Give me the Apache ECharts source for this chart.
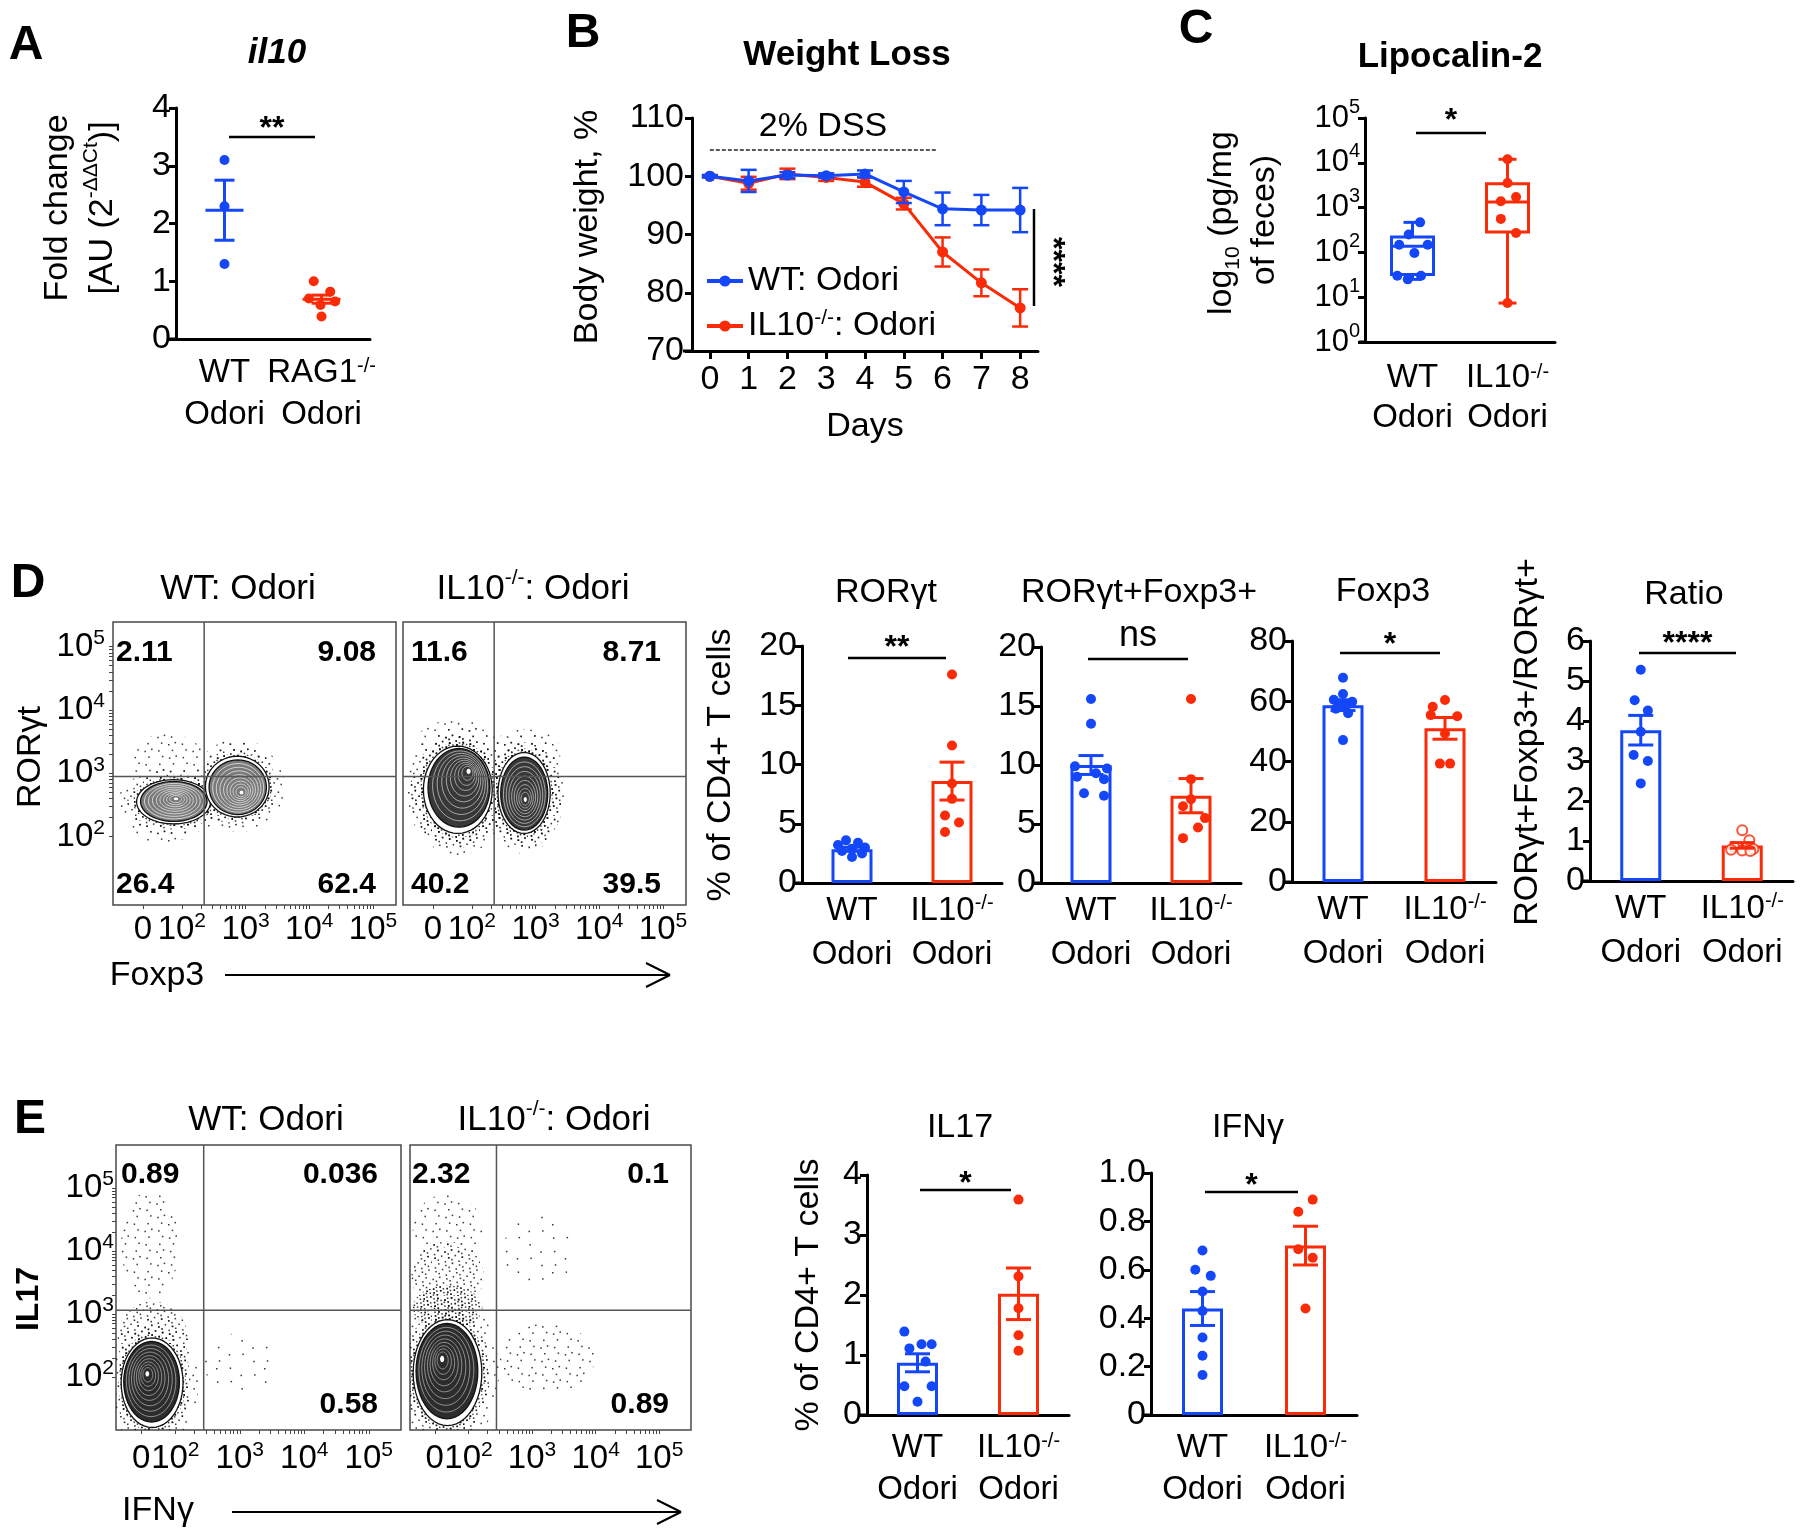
<!DOCTYPE html>
<html>
<head>
<meta charset="utf-8">
<title>Odori IL10 figure</title>
<script src="https://cdn.jsdelivr.net/npm/echarts@6/dist/echarts.min.js"></script>
<style>
  html, body { margin: 0; padding: 0; background: #fff; }
  #fig { width: 1800px; height: 1539px; }
</style>
</head>
<body>
<div id="fig"></div>
<script>
// ---------- values ----------
// A  il10 fold change
const aCats = ['WT', 'RAG1-/-']
const aWt = [3.1, 2.3, 1.3]
const aWtJit = [0, 0, 0]
const aKo = [1.0, 0.82, 0.7, 0.65, 0.59, 0.39]
const aKoJit = [-0.08, 0.09, -0.13, 0.14, -0.01, 0]
const aMean = [2.23, 0.69]
const aSem = [0.52, 0.07]

// B  weight loss
const bDays = [0, 1, 2, 3, 4, 5, 6, 7, 8]
const bWt = [100, 99.2, 100.2, 100.1, 100.4, 97.3, 94.4, 94.2, 94.2]
const bWtSem = [0.2, 1.9, 0.5, 0.4, 0.6, 1.9, 2.8, 2.6, 3.8]
const bKo = [100, 98.8, 100.4, 99.8, 99.0, 95.3, 87.0, 81.7, 77.4]
const bKoSem = [0.2, 1.1, 0.9, 0.6, 0.8, 1.0, 2.5, 2.3, 3.2]
const bDss = [[0, 104.5], [5.85, 104.5]]

// C  lipocalin-2 (pg/mg)
const koCats = ['WT', 'IL10-/-']
const cWt = [468, 250, 148, 148, 97, 30, 30, 25]
const cWtJit = [0.08, -0.04, -0.14, 0.16, 0.02, -0.16, 0.09, -0.05]
const cKo = [12000, 3540, 1730, 1380, 560, 270, 7.4]
const cKoJit = [0, 0, 0.09, -0.07, -0.07, 0.09, 0]
const cBox = [[25, 32, 137, 220, 468], [7.4, 285, 1330, 3400, 12000]] // min q1 med q3 max

// D  bar panels (% of CD4+ T cells)
const rorWt = [3.6, 3.4, 3.2, 3.0, 2.9, 2.7, 2.5, 2.2]
const rorWtJit = [-0.06, 0.06, -0.14, 0.13, 0, -0.1, 0.1, 0]
const rorKo = [17.6, 11.6, 8.4, 7.1, 5.7, 5.1, 4.3]
const rorKoJit = [0, 0, 0, 0, -0.07, 0.07, -0.07]
const rorMean = [2.85, 8.6]
const rorSem = [0.17, 1.6]

const dpWt = [15.6, 13.5, 9.9, 9.7, 9.3, 9.0, 8.8, 7.6, 7.4]
const dpWtJit = [0, 0, -0.16, 0.16, 0.05, -0.14, 0.13, -0.07, 0.13]
const dpKo = [15.6, 8.8, 7.1, 6.5, 5.5, 4.7, 3.8]
const dpKoJit = [0, 0, 0, -0.08, 0.14, 0.07, -0.08]
const dpMean = [10.0, 7.4]
const dpSem = [0.8, 1.45]

const foxWt = [67.8, 62.4, 60.5, 59.8, 59, 58.5, 57.5, 56, 47.1]
const foxWtJit = [0, 0, -0.09, 0.09, -0.03, 0.03, -0.07, 0.05, 0]
const foxKo = [60.4, 58.2, 55.4, 55, 49.3, 39.3, 39.3]
const foxKoJit = [0, -0.12, -0.14, 0.12, 0, -0.05, 0.05]
const foxMean = [58.7, 51]
const foxSem = [1.8, 3.6]

const ratWt = [5.28, 4.52, 4.26, 3.73, 3.15, 3.0, 2.44]
const ratWtJit = [0, -0.06, 0.07, 0, -0.07, 0.07, 0]
const ratKo = [1.27, 1.02, 0.85, 0.8, 0.78, 0.76, 0.75]
const ratKoJit = [0, 0.07, -0.08, 0.11, -0.11, 0, 0.08]
const ratMean = [3.77, 0.89]
const ratSem = [0.37, 0.07]

// E  bar panels
const il17Wt = [1.39, 1.18, 1.18, 1.11, 0.89, 0.48, 0.48, 0.22]
const il17WtJit = [-0.13, 0.14, 0.04, -0.08, 0.08, -0.13, 0.14, 0]
const il17Ko = [3.59, 2.31, 1.78, 1.33, 1.07]
const il17KoJit = [0, 0, 0, 0, 0]
const il17Mean = [0.87, 2.02]
const il17Sem = [0.15, 0.43]

const ifnWt = [0.68, 0.6, 0.575, 0.51, 0.43, 0.32, 0.245, 0.165]
const ifnWtJit = [0, -0.07, 0.08, 0, 0, 0, 0, 0]
const ifnKo = [0.89, 0.84, 0.685, 0.65, 0.44]
const ifnKoJit = [0.07, -0.07, -0.07, 0.07, 0]
const ifnMean = [0.44, 0.70]
const ifnSem = [0.07, 0.08]

// flow plots: axes in log decades, 0 drawn just left of 10^2
const flowText = ['0', '10{s|2}', '10{s|3}', '10{s|4}', '10{s|5}']
const dFlowX = [1.39, 2, 3, 4, 5]
const dFlowY = [1.35, 2, 3, 4, 5]
const eFlowX = [1.47, 2, 3, 4, 5]
const eFlowY = [1.52, 2, 3, 4, 5]
const dGate = [2.35, 2.95]
const eGate = [2.44, 3.06]
// populations: [x, y, halfWidth, halfHeight, peakX, peakY]
const dWtBlobs = [[1.87, 2.55, 0.58, 0.35, 1.91, 2.6], [2.87, 2.79, 0.5, 0.48, 2.94, 2.69]]
const dKoBlobs = [[1.78, 2.74, 0.54, 0.69, 1.96, 3.05], [2.82, 2.69, 0.41, 0.64, 2.84, 2.58]]
const eWtBlobs = [[1.64, 1.91, 0.48, 0.71, 1.56, 2.06]]
const eKoBlobs = [[1.67, 2.07, 0.54, 0.84, 1.58, 2.3]]
// scattered events: [x, y, halfWidth, halfHeight, density 0..3]
const dWtClouds = [[1.77, 3.2, 0.6, 0.42, 1], [2.88, 3.25, 0.45, 0.3, 1], [1.7, 2.2, 0.55, 0.3, 1]]
const dKoClouds = [[1.78, 3.5, 0.65, 0.35, 1], [2.85, 3.35, 0.55, 0.35, 1], [1.78, 2.7, 0.75, 0.88, 2], [2.85, 2.65, 0.6, 0.82, 2]]
const eWtClouds = [[1.61, 4.1, 0.45, 0.85, 1], [3.0, 2.2, 0.55, 0.5, 0], [1.65, 2.6, 0.55, 0.6, 2]]
const eKoClouds = [[1.67, 4.35, 0.55, 0.55, 1], [1.67, 3.6, 0.57, 0.55, 2], [1.67, 3.1, 0.55, 0.35, 3], [3.24, 2.3, 0.75, 0.55, 1], [3.1, 4.0, 0.55, 0.6, 0]]
const dWtQuad = ['2.11', '9.08', '26.4', '62.4']
const dKoQuad = ['11.6', '8.71', '40.2', '39.5']
const eWtQuad = ['0.89', '0.036', '', '0.58']
const eKoQuad = ['2.32', '0.1', '', '0.89']

// ---------- styling ----------
const BLUE = '#1447f8'
const RED = '#fa2b08'
const FONT = "'Liberation Sans', Arial, Helvetica, sans-serif"

// speckle texture for scattered flow events (evenly spread dots, no randomness)
function speckle (n) {
  const size = 48
  const cv = document.createElement('canvas')
  cv.width = cv.height = size
  const ctx = cv.getContext('2d')
  ctx.fillStyle = 'rgba(20,20,20,0.85)'
  for (let i = 0; i < n; i++) {
    const x = ((0.5 + i * 0.7548776662) % 1) * size
    const y = ((0.5 + i * 0.5698402910) % 1) * size
    ctx.fillRect(x, y, 1.5, 1.5)
  }
  return {image: cv, repeat: 'repeat'}
}
const speckles = [speckle(13), speckle(34), speckle(85), speckle(180)]

function ellipsePts (cx, cy, rx, ry) {
  const pts = []
  for (let i = 0; i < 48; i++) {
    const t = i / 48 * Math.PI * 2
    pts.push([cx + rx * Math.cos(t), cy + ry * Math.sin(t)])
  }
  return pts
}

const grids = []
const xAxes = []
const yAxes = []
const series = []
const graphics = []

function addGrid (g) {
  grids.push(g)
  return grids.length - 1
}

function seg (x1, y1, x2, y2, w) {
  graphics.push({type: 'line', z: 100, shape: {x1: x1, y1: y1, x2: x2, y2: y2}, style: {stroke: '#000', lineWidth: w || 2.5}})
}

// Prism draws the x axis a few pixels past the y axis
function stub (g, len) {
  const y = g.top + g.height
  seg(g.left - len, y, g.left, y, 3)
}

function catLabel (v) {
  const ko = v.indexOf('-/-') > 0
  return '{a|' + v.replace('-/-', '') + '}' + (ko ? '{s|-/-}' : '') + '\n{a|Odori}'
}

function catAxis (gi, cats, margin, lh, size) {
  return {
    gridIndex: gi, type: 'category', data: cats, boundaryGap: true,
    axisLine: {onZero: false, lineStyle: {color: '#000', width: 3}},
    axisTick: {alignWithLabel: true, length: 8, lineStyle: {color: '#000', width: 3}},
    axisLabel: {
      margin: margin, formatter: catLabel, interval: 0,
      rich: {
        a: {fontSize: size, lineHeight: lh, color: '#000', fontFamily: FONT},
        s: {fontSize: Math.round(size * 0.62), verticalAlign: 'top', padding: [4, 0, 0, 0], color: '#000', fontFamily: FONT}
      }
    }
  }
}

function valAxis (gi, min, max, interval, label) {
  return {
    gridIndex: gi, type: 'value', min: min, max: max, interval: interval,
    axisLine: {show: true, onZero: false, lineStyle: {color: '#000', width: 3}},
    axisTick: {show: true, length: 7, lineStyle: {color: '#000', width: 3}},
    axisLabel: Object.assign({fontSize: 34, color: '#000', margin: 5, fontFamily: FONT}, label || {}),
    splitLine: {show: false}
  }
}

function hiddenX (gi) {
  return {gridIndex: gi, type: 'value', min: -0.5, max: 1.5, show: false, axisLine: {onZero: false}}
}

function zip (vals, jit, c) {
  return vals.map((v, i) => [c + jit[i], v])
}

function errItem (colors, capW, meanW, lw) {
  return function (params, api) {
    const x = api.value(0)
    const m = api.value(1)
    const e = api.value(2)
    const hi = api.coord([x, m + e])
    const lo = api.coord([x, m - e])
    const mid = api.coord([x, m])
    const col = Array.isArray(colors) ? colors[params.dataIndex] : colors
    const st = {stroke: col, lineWidth: lw, fill: 'none'}
    const ln = (x1, y1, x2, y2) => ({type: 'line', shape: {x1: x1, y1: y1, x2: x2, y2: y2}, style: st})
    const kids = [
      ln(hi[0], hi[1], lo[0], lo[1]),
      ln(hi[0] - capW / 2, hi[1], hi[0] + capW / 2, hi[1]),
      ln(lo[0] - capW / 2, lo[1], lo[0] + capW / 2, lo[1])
    ]
    if (meanW) kids.push(ln(mid[0] - meanW / 2, mid[1], mid[0] + meanW / 2, mid[1]))
    return {type: 'group', children: kids}
  }
}

// dot / bar panel with two groups
function dotPanel (cfg) {
  const gi = addGrid(cfg.grid)
  stub(cfg.grid, 9)
  const cx = xAxes.length
  xAxes.push(catAxis(gi, cfg.cats, cfg.margin, cfg.lh, cfg.catSize))
  xAxes.push(hiddenX(gi))
  const yi = yAxes.length
  yAxes.push(valAxis(gi, 0, cfg.ymax, cfg.interval, cfg.yLabel))
  if (cfg.barWidth) {
    series.push({
      type: 'bar', xAxisIndex: cx, yAxisIndex: yi, barWidth: cfg.barWidth, z: 2,
      data: cfg.mean.map((m, i) => ({value: m, itemStyle: {color: '#fff', borderColor: i ? RED : BLUE, borderWidth: 3}}))
    })
  }
  series.push({
    type: 'scatter', xAxisIndex: cx + 1, yAxisIndex: yi, symbolSize: cfg.dot, z: 3,
    itemStyle: {color: BLUE, opacity: 1}, data: zip(cfg.wt, cfg.wtJit, 0)
  })
  series.push({
    type: 'scatter', xAxisIndex: cx + 1, yAxisIndex: yi, z: 3,
    symbol: cfg.hollow ? 'emptyCircle' : 'circle', symbolSize: cfg.dot,
    itemStyle: cfg.hollow ? {color: RED, borderColor: RED, borderWidth: 2} : {color: RED, opacity: 1},
    data: zip(cfg.ko, cfg.koJit, 1)
  })
  series.push({
    type: 'custom', xAxisIndex: cx + 1, yAxisIndex: yi, z: 4,
    renderItem: errItem([BLUE, RED], cfg.cap || 22, cfg.barWidth ? 0 : 38, 3),
    data: cfg.mean.map((m, i) => [i, m, cfg.sem[i]])
  })
}

// ---------- panel A ----------
dotPanel({
  grid: {left: 176, top: 108, width: 194, height: 231}, cats: aCats, margin: 13, lh: 42, catSize: 33,
  ymax: 4, interval: 1, wt: aWt, wtJit: aWtJit, ko: aKo, koJit: aKoJit, mean: aMean, sem: aSem, dot: 10, cap: 20
})

// ---------- panel B ----------
;(function () {
  const g = {left: 692, top: 118, width: 346, height: 233}
  const gi = addGrid(g)
  stub(g, 9)
  const xi = xAxes.length
  xAxes.push({
    gridIndex: gi, type: 'value', min: -0.46, max: 8.46,
    axisLine: {onZero: false, lineStyle: {color: '#000', width: 3}},
    axisTick: {customValues: bDays, length: 8, lineStyle: {color: '#000', width: 3}},
    axisLabel: {customValues: bDays, fontSize: 34, color: '#000', margin: 12, fontFamily: FONT},
    splitLine: {show: false}
  })
  const yi = yAxes.length
  yAxes.push(valAxis(gi, 70, 110, 10, {margin: 8}))
  series.push({
    type: 'line', xAxisIndex: xi, yAxisIndex: yi, data: bDss, showSymbol: false, silent: true,
    lineStyle: {color: '#222', width: 1.5, type: [4, 2]}
  })
  series.push({
    name: 'IL10-/-: Odori', type: 'line', xAxisIndex: xi, yAxisIndex: yi, z: 3,
    data: bDays.map((d, i) => [d, bKo[i]]), symbol: 'circle', symbolSize: 11,
    itemStyle: {color: RED}, lineStyle: {color: RED, width: 3}
  })
  series.push({
    type: 'custom', xAxisIndex: xi, yAxisIndex: yi, z: 3,
    renderItem: errItem(RED, 16, 0, 2.5), data: bDays.map((d, i) => [d, bKo[i], bKoSem[i]])
  })
  series.push({
    name: 'WT: Odori', type: 'line', xAxisIndex: xi, yAxisIndex: yi, z: 4,
    data: bDays.map((d, i) => [d, bWt[i]]), symbol: 'circle', symbolSize: 11,
    itemStyle: {color: BLUE}, lineStyle: {color: BLUE, width: 3}
  })
  series.push({
    type: 'custom', xAxisIndex: xi, yAxisIndex: yi, z: 4,
    renderItem: errItem(BLUE, 16, 0, 2.5), data: bDays.map((d, i) => [d, bWt[i], bWtSem[i]])
  })
})()

// ---------- panel C ----------
;(function () {
  const g = {left: 1365, top: 118, width: 190, height: 224}
  const gi = addGrid(g)
  stub(g, 6)
  const cx = xAxes.length
  xAxes.push(catAxis(gi, koCats, 16, 40, 33))
  xAxes.push(hiddenX(gi))
  const yi = yAxes.length
  yAxes.push({
    gridIndex: gi, type: 'log', logBase: 10, min: 1, max: 100000,
    axisLine: {show: true, onZero: false, lineStyle: {color: '#000', width: 3}},
    axisTick: {show: true, length: 7, lineStyle: {color: '#000', width: 3}},
    minorTick: {show: false}, splitLine: {show: false},
    axisLabel: {
      fontSize: 31, color: '#000', margin: 5, fontFamily: FONT, lineHeight: 42,
      formatter: v => '10{s|' + Math.round(Math.log10(v)) + '}',
      rich: {s: {fontSize: 20, verticalAlign: 'top', color: '#000', fontFamily: FONT}}
    }
  })
  series.push({
    type: 'custom', xAxisIndex: cx + 1, yAxisIndex: yi, z: 2, data: cBox.map((b, i) => [i].concat(b)),
    renderItem: function (params, api) {
      const i = api.value(0)
      const p = [1, 2, 3, 4, 5].map(k => api.coord([i, api.value(k)]))
      const st = {stroke: i ? RED : BLUE, lineWidth: 3, fill: 'none'}
      const bw = 42
      const cw = 18
      const x = p[0][0]
      const ln = (x1, y1, x2, y2) => ({type: 'line', shape: {x1: x1, y1: y1, x2: x2, y2: y2}, style: st})
      return {
        type: 'group',
        children: [
          ln(x, p[4][1], x, p[3][1]), ln(x, p[1][1], x, p[0][1]),
          ln(x - cw / 2, p[4][1], x + cw / 2, p[4][1]), ln(x - cw / 2, p[0][1], x + cw / 2, p[0][1]),
          {type: 'rect', shape: {x: x - bw / 2, y: p[3][1], width: bw, height: p[1][1] - p[3][1]}, style: st},
          ln(x - bw / 2, p[2][1], x + bw / 2, p[2][1])
        ]
      }
    }
  })
  series.push({type: 'scatter', xAxisIndex: cx + 1, yAxisIndex: yi, symbolSize: 10, z: 3, itemStyle: {color: BLUE, opacity: 1}, data: zip(cWt, cWtJit, 0)})
  series.push({type: 'scatter', xAxisIndex: cx + 1, yAxisIndex: yi, symbolSize: 10, z: 3, itemStyle: {color: RED, opacity: 1}, data: zip(cKo, cKoJit, 1)})
})()

// ---------- panel D / E bars ----------
const barCommon = {cats: koCats, catSize: 33, dot: 10, barWidth: 41, cap: 25}
dotPanel(Object.assign({grid: {left: 802, top: 646, width: 200, height: 237}, margin: 6, lh: 44, ymax: 20, interval: 5,
  wt: rorWt, wtJit: rorWtJit, ko: rorKo, koJit: rorKoJit, mean: rorMean, sem: rorSem}, barCommon))
dotPanel(Object.assign({grid: {left: 1041, top: 647, width: 200, height: 236}, margin: 6, lh: 44, ymax: 20, interval: 5,
  wt: dpWt, wtJit: dpWtJit, ko: dpKo, koJit: dpKoJit, mean: dpMean, sem: dpSem}, barCommon))
dotPanel(Object.assign({grid: {left: 1292, top: 641, width: 204, height: 241}, margin: 6, lh: 44, ymax: 80, interval: 20,
  wt: foxWt, wtJit: foxWtJit, ko: foxKo, koJit: foxKoJit, mean: foxMean, sem: foxSem}, barCommon))
dotPanel(Object.assign({grid: {left: 1590, top: 641, width: 203, height: 240}, margin: 6, lh: 44, ymax: 6, interval: 1,
  wt: ratWt, wtJit: ratWtJit, ko: ratKo, koJit: ratKoJit, mean: ratMean, sem: ratSem, hollow: true}, barCommon))
dotPanel(Object.assign({grid: {left: 867, top: 1175, width: 202, height: 240}, margin: 12, lh: 42, ymax: 4, interval: 1,
  wt: il17Wt, wtJit: il17WtJit, ko: il17Ko, koJit: il17KoJit, mean: il17Mean, sem: il17Sem}, barCommon))
dotPanel(Object.assign({grid: {left: 1151, top: 1173, width: 206, height: 242}, margin: 12, lh: 42, ymax: 1, interval: 0.2,
  wt: ifnWt, wtJit: ifnWtJit, ko: ifnKo, koJit: ifnKoJit, mean: ifnMean, sem: ifnSem,
  yLabel: {formatter: v => v === 0 ? '0' : v.toFixed(1)}}, barCommon))

// ---------- flow plots ----------
function withMinor (ticks) {
  const out = ticks.slice()
  for (let d = 2; d <= 4; d++) {
    for (let k = 2; k <= 9; k++) out.push(d + Math.log10(k))
  }
  return out
}

function flowAxis (gi, range, ticks, showTicks, showLabels, margin) {
  return {
    gridIndex: gi, type: 'value', min: range[0], max: range[1],
    axisLine: {show: false, onZero: false}, splitLine: {show: false},
    axisTick: {show: showTicks, customValues: withMinor(ticks), length: 4, lineStyle: {color: '#444', width: 1}},
    axisLabel: {
      show: showLabels, customValues: ticks, margin: margin, fontSize: 33, fontFamily: FONT, color: '#000', lineHeight: 44,
      formatter: v => flowText[ticks.findIndex(t => Math.abs(t - v) < 1e-6)],
      rich: {s: {fontSize: 21, fontFamily: FONT, verticalAlign: 'top', padding: [3, 0, 0, 0], color: '#000'}}
    }
  }
}

function cloudItem (params, api) {
  const c = api.coord([api.value(0), api.value(1)])
  const s = api.size([api.value(2), api.value(3)])
  return {type: 'polygon', shape: {points: ellipsePts(c[0], c[1], s[0], s[1])}, style: {fill: speckles[api.value(4)], stroke: 'none'}}
}

function blobItem (layer, shade, ring) {
  return function (params, api) {
    const c = api.coord([api.value(0), api.value(1)])
    const p = api.coord([api.value(4), api.value(5)])
    const s = api.size([api.value(2), api.value(3)])
    const kids = []
    const ell = (k, style) => {
      const f = Math.min(k, 1)
      const x = p[0] + (c[0] - p[0]) * f
      const y = p[1] + (c[1] - p[1]) * f
      kids.push({type: 'polygon', shape: {points: ellipsePts(x, y, s[0] * k, s[1] * k)}, style: style})
    }
    if (layer === 'halo') {
      ell(1.5, {fill: speckles[1], stroke: 'none'})
      ell(1.25, {fill: speckles[2], stroke: 'none'})
      ell(1.1, {fill: speckles[3], stroke: 'none'})
    } else if (layer === 'outer') {
      ell(1.0, {fill: '#fff', stroke: '#111', lineWidth: 1.3})
      ell(0.9, {fill: shade, stroke: '#111', lineWidth: 1.3})
    } else {
      [0.8, 0.7, 0.6, 0.5, 0.41, 0.32, 0.24, 0.16].forEach(k => ell(k, {fill: 'none', stroke: ring, lineWidth: 0.9}))
      ell(0.06, {fill: '#fff', stroke: 'none'})
    }
    return {type: 'group', children: kids}
  }
}

function flowPlot (cfg) {
  const gi = addGrid(Object.assign({show: true, borderColor: '#4a4a4a', borderWidth: 1.5, backgroundColor: 'transparent'}, cfg.grid))
  const xi = xAxes.length
  const yi = yAxes.length
  xAxes.push(flowAxis(gi, cfg.xr, cfg.xTicks, true, true, cfg.xMargin))
  yAxes.push(flowAxis(gi, cfg.yr, cfg.yTicks, cfg.yLabels, cfg.yLabels, cfg.yMargin))
  const base = {type: 'custom', xAxisIndex: xi, yAxisIndex: yi, clip: true, silent: true}
  series.push(Object.assign({}, base, {renderItem: cloudItem, data: cfg.clouds, z: 2}))
  ;['halo', 'outer', 'inner'].forEach((layer, k) => {
    series.push(Object.assign({}, base, {renderItem: blobItem(layer, cfg.shade, cfg.ring), data: cfg.blobs, z: 3 + k}))
  })
  const gl = {type: 'line', xAxisIndex: xi, yAxisIndex: yi, showSymbol: false, silent: true, z: 7, lineStyle: {color: '#555', width: 1.5}}
  series.push(Object.assign({}, gl, {data: [[cfg.gate[0], cfg.yr[0]], [cfg.gate[0], cfg.yr[1]]]}))
  series.push(Object.assign({}, gl, {data: [[cfg.xr[0], cfg.gate[1]], [cfg.xr[1], cfg.gate[1]]]}))
}

flowPlot({grid: {left: 113, top: 622, width: 283, height: 283}, xr: [0.92, 5.36], yr: [0.92, 5.39], xTicks: dFlowX, yTicks: dFlowY,
  yLabels: true, xMargin: 3, yMargin: 8, gate: dGate, blobs: dWtBlobs, clouds: dWtClouds, shade: '#7a7a7a', ring: '#dedede'})
flowPlot({grid: {left: 403, top: 622, width: 283, height: 283}, xr: [0.92, 5.36], yr: [0.92, 5.39], xTicks: dFlowX, yTicks: dFlowY,
  yLabels: false, xMargin: 3, yMargin: 8, gate: dGate, blobs: dKoBlobs, clouds: dKoClouds, shade: '#383838', ring: '#b4b4b4'})
flowPlot({grid: {left: 116, top: 1145, width: 285, height: 285}, xr: [1.08, 5.5], yr: [1.16, 5.68], xTicks: eFlowX, yTicks: eFlowY,
  yLabels: true, xMargin: 7, yMargin: 2, gate: eGate, blobs: eWtBlobs, clouds: eWtClouds, shade: '#2c2c2c', ring: '#9c9c9c'})
flowPlot({grid: {left: 410, top: 1145, width: 281, height: 285}, xr: [1.08, 5.5], yr: [1.16, 5.68], xTicks: eFlowX, yTicks: eFlowY,
  yLabels: false, xMargin: 7, yMargin: 2, gate: eGate, blobs: eKoBlobs, clouds: eKoClouds, shade: '#2c2c2c', ring: '#9c9c9c'})

// ---------- text, brackets, arrows ----------
const SUP = {s: {fontSize: 21, verticalAlign: 'top', fontFamily: FONT, fill: '#000'}}
const SUB = {b: {fontSize: 21, verticalAlign: 'bottom', fontFamily: FONT, fill: '#000'}}

function txt (x, y, text, o) {
  o = o || {}
  graphics.push({
    type: 'text', x: x, y: y, rotation: o.rot || 0, z: 100,
    style: {
      text: text, fontSize: o.size || 34, fontWeight: o.weight || 'normal', fontStyle: o.italic ? 'italic' : 'normal',
      fontFamily: FONT, fill: '#000', align: o.align || 'center', verticalAlign: 'middle',
      lineHeight: o.lh, rich: o.rich
    }
  })
}

function sig (x1, x2, y, label, ly) {
  seg(x1, y, x2, y)
  txt((x1 + x2) / 2, ly, label, {size: label === 'ns' ? 36 : 32, weight: label === 'ns' ? 'normal' : 'bold'})
}

const R90 = Math.PI / 2

// panel letters
txt(26, 46, 'A', {size: 48, weight: 'bold'})
txt(583, 34, 'B', {size: 48, weight: 'bold'})
txt(1196, 30, 'C', {size: 48, weight: 'bold'})
txt(28, 584, 'D', {size: 48, weight: 'bold'})
txt(30, 1120, 'E', {size: 48, weight: 'bold'})

// titles
txt(277, 53, 'il10', {size: 35, weight: 'bold', italic: true})
txt(847, 55, 'Weight Loss', {size: 35, weight: 'bold'})
txt(1450, 57, 'Lipocalin-2', {size: 35, weight: 'bold'})
txt(886, 593, 'RORγt')
txt(1139, 593, 'RORγt+Foxp3+')
txt(1383, 592, 'Foxp3')
txt(1684, 595, 'Ratio')
txt(960, 1128, 'IL17')
txt(1248, 1128, 'IFNγ')

// axis names
txt(58, 208, 'Fold change', {rot: R90})
txt(103, 208, '[AU (2{s|-ΔΔCt})]', {rot: R90, rich: SUP, lh: 44})
txt(588, 227, 'Body weight, %', {rot: R90})
txt(865, 427, 'Days')
txt(823, 127, '2% DSS')
txt(1222, 223, 'log{b|10} (pg/mg', {rot: R90, rich: SUB, lh: 44})
txt(1265, 220, 'of feces)', {rot: R90})
txt(721, 765, '% of CD4+ T cells', {rot: R90})
txt(1528, 742, 'RORγt+Foxp3+/RORγt+', {rot: R90})
txt(809, 1295, '% of CD4+ T cells', {rot: R90})

// flow labels
txt(238, 589, 'WT: Odori', {size: 35})
txt(533, 589, 'IL10{s|-/-}: Odori', {size: 35, rich: SUP, lh: 42})
txt(266, 1120, 'WT: Odori', {size: 35})
txt(554, 1120, 'IL10{s|-/-}: Odori', {size: 35, rich: SUP, lh: 42})
txt(31, 757, 'RORγt', {rot: R90})
txt(157, 976, 'Foxp3')
txt(29, 1299, 'IL17', {size: 32, weight: 'bold', rot: R90})
txt(158, 1511, 'IFNγ')
seg(225, 975, 670, 975, 2)
seg(670, 975, 646, 963, 2)
seg(670, 975, 646, 987, 2)
seg(232, 1512, 681, 1512, 2)
seg(681, 1512, 657, 1500, 2)
seg(681, 1512, 657, 1524, 2)

function quad (vals, left, right, top, bottom) {
  const o = {size: 30, weight: 'bold'}
  if (vals[0]) txt(left, top, vals[0], Object.assign({align: 'left'}, o))
  if (vals[1]) txt(right, top, vals[1], Object.assign({align: 'right'}, o))
  if (vals[2]) txt(left, bottom, vals[2], Object.assign({align: 'left'}, o))
  if (vals[3]) txt(right, bottom, vals[3], Object.assign({align: 'right'}, o))
}
quad(dWtQuad, 116, 376, 653, 885)
quad(dKoQuad, 411, 661, 653, 885)
quad(eWtQuad, 121, 378, 1175, 1405)
quad(eKoQuad, 412, 669, 1175, 1405)

// significance
sig(229, 315, 137, '**', 129)
sig(1416, 1486, 133, '*', 121)
sig(848, 946, 658, '**', 648)
sig(1088, 1188, 659, 'ns', 636)
sig(1340, 1440, 653, '*', 645)
sig(1639, 1736, 653, '****', 644)
sig(920, 1011, 1190, '*', 1184)
sig(1205, 1298, 1192, '*', 1186)
seg(1034, 209, 1034, 306)
txt(1052, 262, '****', {size: 32, weight: 'bold', rot: -R90})

const chart = echarts.init(document.getElementById('fig'), null, {renderer: 'canvas'})
chart.setOption({
  animation: false,
  backgroundColor: '#fff',
  textStyle: {fontFamily: FONT, color: '#000'},
  grid: grids,
  xAxis: xAxes,
  yAxis: yAxes,
  legend: {
    data: ['WT: Odori', 'IL10-/-: Odori'], orient: 'vertical', left: 700, top: 259,
    itemWidth: 36, itemHeight: 14, itemGap: 10,
    lineStyle: {width: 4},
    textStyle: {fontSize: 34, color: '#000', fontFamily: FONT, rich: {
      a: {fontSize: 34, color: '#000', fontFamily: FONT, lineHeight: 36},
      s: {fontSize: 21, verticalAlign: 'top', color: '#000', fontFamily: FONT}
    }},
    formatter: n => n.indexOf('IL10') === 0 ? '{a|IL10}{s|-/-}{a|: Odori}' : '{a|' + n + '}'
  },
  series: series,
  graphic: {elements: graphics}
})
</script>
</body>
</html>
